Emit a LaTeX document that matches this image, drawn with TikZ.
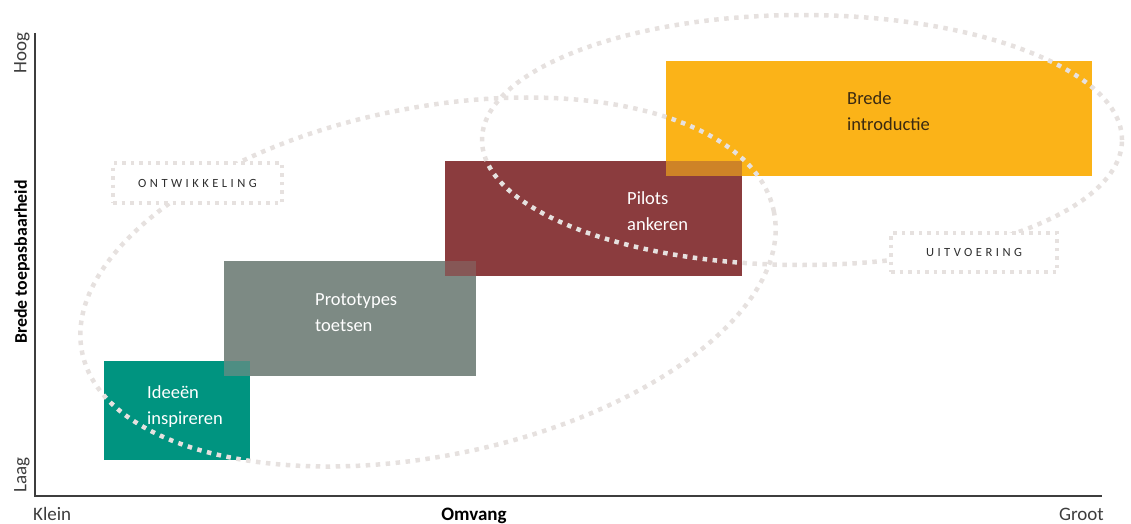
\documentclass[tikz,border=0pt]{standalone}
\usepackage{fontspec}
\setmainfont{Carlito}
\usetikzlibrary{positioning}
\definecolor{ideeen}{HTML}{009480}
\definecolor{proto}{HTML}{7D8A84}
\definecolor{pilots}{HTML}{8B3C3E}
\definecolor{brede}{HTML}{FBB318}
\definecolor{stip}{HTML}{E6E1DF}
\definecolor{asgrijs}{HTML}{3D3D3D}
\definecolor{tekstgrijs}{HTML}{2E2E2E}
\definecolor{donker}{HTML}{3A2A12}

\begin{document}
\begin{tikzpicture}[x=1pt,y=-1pt,
    blok/.style={anchor=north west, inner sep=0pt, outer sep=0pt},
    tekst/.style={anchor=base west, align=left, inner sep=0pt, text=white,
        font=\fontsize{18.5}{26}\selectfont},
    stippel/.style={draw=stip, line width=4.5pt, dash pattern=on 4.5pt off 5.5pt},
    fase/.style={draw=stip, fill=white, line width=3.5pt, dash pattern=on 3.5pt off 5pt,
        minimum width=169pt, minimum height=40pt, inner sep=0pt, text=tekstgrijs,
        font=\fontsize{12.5}{14}\selectfont\addfontfeature{LetterSpace=28}},
    aslabel/.style={inner sep=0pt, text=asgrijs, font=\fontsize{19}{20}\selectfont}]
    % Bounding box
    \useasboundingbox (0,0) rectangle (1131,524);
    % Axes
    \coordinate (oorsprong) at (35,496);
    \coordinate (ytop) at (35,33);
    \coordinate (xeind) at (1102,496);
    \draw[line width=1.5pt, asgrijs] (ytop) -- (oorsprong) -- (xeind);
    % Blocks
    \node[blok, fill=ideeen, minimum width=146pt, minimum height=99pt] (ideeen) at (104,361) {};
    \node[blok, fill=proto, minimum width=252pt, minimum height=115pt] (proto) at (224,261) {};
    \node[blok, fill=pilots, minimum width=297pt, minimum height=115pt] (pilots) at (445,161) {};
    \node[blok, fill=brede, minimum width=426pt, minimum height=115pt] (brede) at (666,61) {};
    % Overlaps
    \fill[proto!62!ideeen] (proto.south west) rectangle (ideeen.north east);
    \fill[pilots!65!proto] (pilots.south west) rectangle (proto.north east);
    \fill[brede!60!pilots] (brede.south west) rectangle (pilots.north east);
    % Block labels (anchored at the baseline of the last line)
    \node[tekst] (ideeentekst) at (147,424) {Ideeën\\inspireren};
    \node[tekst] (prototekst) at (315,331) {Prototypes\\toetsen};
    \node[tekst] (pilotstekst) at (627,230) {Pilots\\ankeren};
    \node[tekst, text=donker] (bredetekst) at (847,131) {Brede\\introductie};
    % Phases
    \draw[stippel, rotate around={11.5:(428,282)}] (428,282) ellipse [x radius=353pt, y radius=174pt];
    \draw[stippel] (802,140) ellipse [x radius=320pt, y radius=125pt];
    \node[fase] (ontwikkeling) at (197.5,183) {ONTWIKKELING};
    \node[fase, minimum width=166pt, minimum height=39pt] (uitvoering) at (974,252.5) {UITVOERING};
    % Axis labels
    \node[aslabel, rotate=90, anchor=east] (hoog) at (22,32) {Hoog};
    \node[aslabel, rotate=90, anchor=west] (laag) at (22,493) {Laag};
    \node[aslabel, rotate=90, font=\bfseries\fontsize{17.8}{20}\selectfont, text=black] (toepas) at (22,262) {Brede toepasbaarheid};
    \node[aslabel, anchor=base west] (klein) at (33,520) {Klein};
    \node[aslabel, anchor=base, font=\bfseries\fontsize{19}{20}\selectfont, text=black] (omvang) at (474,520) {Omvang};
    \node[aslabel, anchor=base east] (groot) at (1104,520) {Groot};
\end{tikzpicture}
\end{document}
